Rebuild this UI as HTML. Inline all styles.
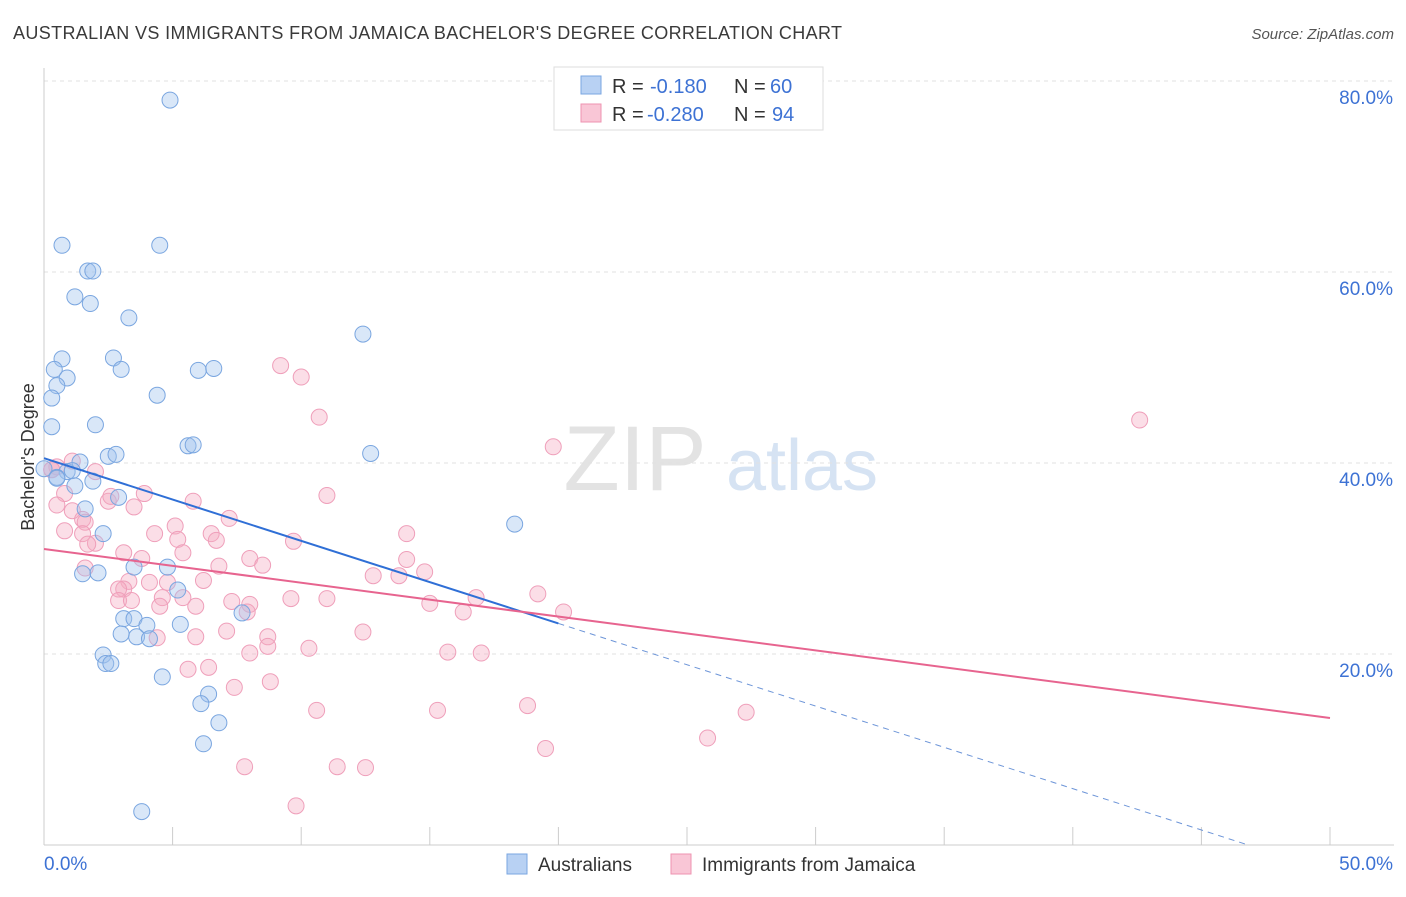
<!DOCTYPE html>
<html><head><meta charset="utf-8">
<style>
body{margin:0;background:#fff;font-family:"Liberation Sans",sans-serif;}
svg text{font-family:"Liberation Sans",sans-serif;}
</style></head>
<body>
<svg id="chart" width="1406" height="892" viewBox="0 0 1406 892" xmlns="http://www.w3.org/2000/svg">
<text x="13" y="39" font-size="18" fill="#3a3a3a" textLength="829" lengthAdjust="spacing">AUSTRALIAN VS IMMIGRANTS FROM JAMAICA BACHELOR'S DEGREE CORRELATION CHART</text>
<text x="1394" y="39" font-size="15" fill="#555" font-style="italic" text-anchor="end">Source: ZipAtlas.com</text>
<g>
<text x="635" y="490" font-size="92" fill="#e3e3e3" font-family="Liberation Serif" text-anchor="middle">ZIP</text>
<text x="802" y="490" font-size="72" fill="#d6e3f3" text-anchor="middle">atlas</text>
</g>
<g id="grid"></g>
<g id="axes"></g>
<g id="pts"></g>
<g id="lines"></g>
<text transform="translate(34,457) rotate(-90)" font-size="18" fill="#333" text-anchor="middle">Bachelor's Degree</text>
<g>
<rect x="554" y="67" width="269" height="63" fill="#fff" stroke="#ddd"/>
<rect x="581" y="76" width="20" height="18" fill="#b8d1f3" stroke="#7aa6e0"/>
<rect x="581" y="104" width="20" height="18" fill="#f9c6d6" stroke="#ee93b0"/>
<text y="93" font-size="20" fill="#333"><tspan x="612">R =</tspan><tspan x="650" fill="#3d72d4">-0.180</tspan><tspan x="734">N =</tspan><tspan x="770" fill="#3d72d4">60</tspan></text>
<text y="121" font-size="20" fill="#333"><tspan x="612">R =</tspan><tspan x="647" fill="#3d72d4">-0.280</tspan><tspan x="734">N =</tspan><tspan x="772" fill="#3d72d4">94</tspan></text>
</g>
<g>
<rect x="507" y="854" width="20" height="20" fill="#b8d1f3" stroke="#7aa6e0"/>
<text x="538" y="871" font-size="19" fill="#333">Australians</text>
<rect x="671" y="854" width="20" height="20" fill="#f9c6d6" stroke="#ee93b0"/>
<text x="702" y="871" font-size="19" fill="#333">Immigrants from Jamaica</text>
</g>
</svg>
<script>
const xTicks=[0,5,10,15,20,25,30,35,40,45,50];
const yTicks=[20,40,60,80];
const blueX=[4.9,0.7,4.5,1.7,1.9,1.2,1.8,3.3,12.4,0.7,2.7,0.4,3.0,6.0,6.6,0.9,0.5,0.3,4.4,0.3,2.0,5.6,5.8,12.7,2.5,2.8,1.4,0.0,0.9,1.1,0.5,1.9,1.2,2.9,1.6,18.3,2.3,1.5,2.1,3.5,4.8,5.2,3.1,3.5,4.0,5.3,7.7,3.6,4.1,3.0,2.3,2.4,2.6,4.6,6.4,6.1,6.8,6.2,3.8,0.5];
const blueY=[78.0,62.8,62.8,60.1,60.1,57.4,56.7,55.2,53.5,50.9,51.0,49.8,49.8,49.7,49.9,48.9,48.1,46.8,47.1,43.8,44.0,41.8,41.9,41.0,40.7,40.9,40.1,39.4,39.1,39.2,38.5,38.1,37.6,36.4,35.2,33.6,32.6,28.4,28.5,29.1,29.1,26.7,23.7,23.7,23.0,23.1,24.3,21.8,21.6,22.1,19.9,19.0,19.0,17.6,15.8,14.8,12.8,10.6,3.5,38.4];
const pinkX=[9.2,10.0,10.7,19.8,42.6,0.3,0.5,1.1,2.0,0.8,0.5,1.1,1.5,1.6,2.5,2.6,3.5,3.9,5.8,7.2,11.0,14.1,0.8,2.0,1.5,1.7,3.1,3.8,4.3,5.1,5.2,5.4,6.5,6.7,8.0,9.7,14.1,12.8,13.8,14.8,8.5,6.8,6.2,4.8,4.1,3.3,3.1,2.9,2.9,3.4,4.6,4.5,5.4,5.9,7.3,8.0,7.9,9.6,11.0,15.0,16.3,16.8,19.2,20.2,7.1,8.7,5.9,4.4,12.4,10.3,8.0,8.7,5.6,6.4,15.7,17.0,8.8,7.4,10.6,15.3,18.8,27.3,25.8,19.5,7.8,11.4,12.5,9.8,0.3,1.6];
const pinkY=[50.2,49.0,44.8,41.7,44.5,39.3,39.6,40.2,39.1,36.8,35.6,35.0,34.1,33.8,36.0,36.5,35.4,36.8,36.0,34.2,36.6,32.6,32.9,31.6,32.6,31.5,30.6,30.0,32.6,33.4,32.0,30.6,32.6,31.9,30.0,31.8,29.9,28.2,28.2,28.6,29.3,29.2,27.7,27.5,27.5,27.6,26.8,26.8,25.6,25.6,25.9,25.0,25.9,25.0,25.5,25.2,24.4,25.8,25.8,25.3,24.4,25.9,26.3,24.4,22.4,21.8,21.8,21.7,22.3,20.6,20.1,20.8,18.4,18.6,20.2,20.1,17.1,16.5,14.1,14.1,14.6,13.9,11.2,10.1,8.2,8.2,8.1,4.1,39.3,29.0];
const blueFit=[40.5,-0.865];
const pinkFit=[31.0,-0.354];
const NS="http://www.w3.org/2000/svg";
const X0=44,X1=1330,Y0=845,PY=9.55;
const sx=v=>X0+(X1-X0)*v/50, sy=v=>Y0-v*PY;
function mk(tag,attrs,parent){const e=document.createElementNS(NS,tag);for(const k in attrs)e.setAttribute(k,attrs[k]);document.getElementById(parent).appendChild(e);return e;}
let e;
yTicks.forEach(t=>{
 e=mk('line',{x1:X0,x2:1394,y1:sy(t),y2:sy(t),stroke:'#e2e2e2','stroke-dasharray':'4,4'},'grid');
 
 
 e=mk('text',{x:1393,y:sy(t)+23,'font-size':19,fill:'#3d72d4','text-anchor':'end'},'axes');e.textContent=t.toFixed(1)+'%';
 
 
});
e=mk('line',{x1:X0,x2:X0,y1:68,y2:Y0,stroke:'#ccc'},'axes');


e=mk('line',{x1:X0,x2:1394,y1:Y0,y2:Y0,stroke:'#ccc'},'axes');


xTicks.forEach(t=>{
 e=mk('line',{x1:sx(t),x2:sx(t),y1:Y0,y2:Y0-18,stroke:'#ccc'},'axes');
 
 
});
e=mk('text',{x:44,y:870,'font-size':19,fill:'#3d72d4'},'axes');e.textContent='0.0%';


e=mk('text',{x:1393,y:870,'font-size':19,fill:'#3d72d4','text-anchor':'end'},'axes');e.textContent='50.0%';


pinkX.forEach((v,i)=>{
 e=mk('circle',{cx:sx(v),cy:sy(pinkY[i]),r:8,fill:'rgba(246,172,196,0.4)',stroke:'#ef9fba','stroke-width':1},'pts');
 
 
});
blueX.forEach((v,i)=>{
 e=mk('circle',{cx:sx(v),cy:sy(blueY[i]),r:8,fill:'rgba(160,194,238,0.4)',stroke:'#7aa6e0','stroke-width':1},'pts');
 
 
});
const f=(fit,x)=>fit[0]+fit[1]*x;
e=mk('line',{x1:sx(0),y1:sy(f(blueFit,0)),x2:sx(20),y2:sy(f(blueFit,20)),stroke:'#2f6fd6','stroke-width':2},'lines');


const xz=-blueFit[0]/blueFit[1];
e=mk('line',{x1:sx(20),y1:sy(f(blueFit,20)),x2:sx(xz),y2:sy(0),stroke:'#6d95d8','stroke-width':1,'stroke-dasharray':'6,5'},'lines');


e=mk('line',{x1:sx(0),y1:sy(f(pinkFit,0)),x2:sx(50),y2:sy(f(pinkFit,50)),stroke:'#e7648f','stroke-width':2},'lines');


</script>
</body></html>
